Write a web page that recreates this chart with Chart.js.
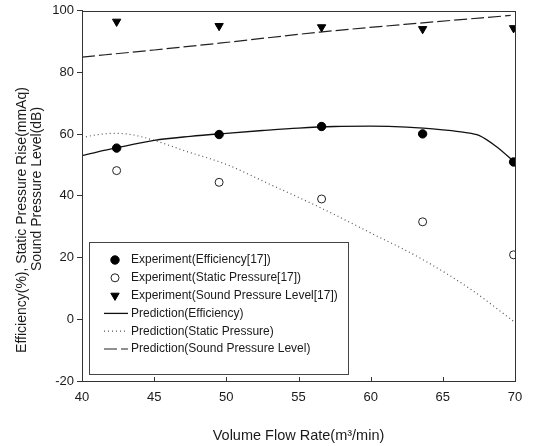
<!DOCTYPE html>
<html>
<head>
<meta charset="utf-8">
<script src="https://cdn.jsdelivr.net/npm/chart.js@4/dist/chart.umd.min.js"></script>
<style>
  html, body { margin: 0; padding: 0; background: #fff; }
  #wrap { width: 533px; height: 446px; }
</style>
</head>
<body>
<div id="wrap"><canvas id="c" width="533" height="446"></canvas></div>
<script>
// ---- data ----
const xExp    = [42.4, 49.5, 56.6, 63.6, 69.9];
const effExp  = [55.5, 59.9, 62.5, 60.1, 51.0];
const spExp   = [48.2, 44.4, 39.0, 31.6, 20.9];
const splExp  = [96.5, 95.1, 94.7, 94.1, 94.4];

const effPredX = [40, 42.5, 45, 47.5, 50, 52.5, 55, 57.5, 60, 62.5, 65, 66.5, 67.5, 68.7, 70];
const effPredY = [53.1, 55.7, 58.0, 59.3, 60.3, 61.2, 62.0, 62.5, 62.6, 62.3, 61.4, 60.6, 59.6, 56.0, 50.8];

const spPredX = [40, 41, 42.3, 43.5, 45, 47, 50, 53, 56.6, 60, 63.6, 67, 70];
const spPredY = [58.9, 59.8, 60.3, 59.8, 58.0, 54.8, 50.2, 43.8, 36.0, 28.0, 19.4, 9.5, -1.0];

const splPredX = [40, 45, 49.5, 56.5, 63.6, 69.7];
const splPredY = [85.0, 87.3, 89.5, 93.1, 96.1, 98.5];

const xTicks = [40, 45, 50, 55, 60, 65, 70];
const yTicks = [-20, 0, 20, 40, 60, 80, 100];

const labels = [
  'Experiment(Efficiency[17])',
  'Experiment(Static Pressure[17])',
  'Experiment(Sound Pressure Level[17])',
  'Prediction(Efficiency)',
  'Prediction(Static Pressure)',
  'Prediction(Sound Pressure Level)'
];
const xTitle = 'Volume Flow Rate(m\u00B3/min)';
const yTitle = ['Efficiency(%), Static Pressure Rise(mmAq)', 'Sound Pressure Level(dB)'];

const pts = (xs, ys) => xs.map((x, i) => ({x: x, y: ys[i]}));
const FONT = '"Liberation Sans", Arial, sans-serif';
const INK = '#1a1a1a';

const frameAndLegend = {
  id: 'frameAndLegend',
  afterDatasetsDraw(chart) {
    const ctx = chart.ctx;
    const a = chart.chartArea;
    ctx.save();
    // frame
    ctx.strokeStyle = '#333';
    ctx.lineWidth = 1;
    ctx.strokeRect(Math.round(a.left) + 0.5, Math.round(a.top) + 0.5,
                   Math.round(a.right - a.left), Math.round(a.bottom - a.top));
    // inward x tick marks
    const xs = chart.scales.x;
    ctx.beginPath();
    xs.ticks.forEach(t => {
      const px = Math.round(xs.getPixelForValue(t.value)) + 0.5;
      ctx.moveTo(px, a.bottom);
      ctx.lineTo(px, a.bottom - 4);
    });
    ctx.stroke();

    // y axis title (two lines, rotated)
    ctx.save();
    ctx.fillStyle = INK;
    ctx.font = '14px ' + FONT;
    ctx.textAlign = 'center';
    ctx.textBaseline = 'middle';
    const titlePos = [[22, 220], [37, 189]];
    yTitle.forEach((t, i) => {
      ctx.save();
      ctx.translate(titlePos[i][0], titlePos[i][1]);
      ctx.rotate(-Math.PI / 2);
      ctx.fillText(t, 0, 0);
      ctx.restore();
    });
    ctx.restore();

    // legend box
    const bx0 = 89, by0 = 242, bx1 = 348, by1 = 374;
    ctx.fillStyle = '#fff';
    ctx.fillRect(bx0, by0, bx1 - bx0, by1 - by0);
    ctx.strokeStyle = '#444';
    ctx.strokeRect(bx0 + 0.5, by0 + 0.5, bx1 - bx0, by1 - by0);

    ctx.font = '12px ' + FONT;
    ctx.textBaseline = 'middle';
    ctx.textAlign = 'left';
    chart.data.datasets.forEach((ds, i) => {
      const y = 260 + i * 17.8;
      if (ds.showLine) {
        ctx.save();
        ctx.strokeStyle = ds.borderColor;
        ctx.lineWidth = ds.borderWidth;
        ctx.setLineDash(ds.borderDash || []);
        ctx.beginPath();
        ctx.moveTo(104, y);
        ctx.lineTo(128, y);
        ctx.stroke();
        ctx.restore();
      } else {
        ctx.save();
        ctx.fillStyle = ds.pointBackgroundColor;
        ctx.strokeStyle = ds.pointBorderColor;
        ctx.lineWidth = ds.pointBorderWidth;
        Chart.helpers.drawPoint(ctx, {
          pointStyle: ds.pointStyle,
          radius: ds.pointRadius,
          rotation: ds.pointRotation || 0,
          borderWidth: ds.pointBorderWidth
        }, 115, y);
        ctx.restore();
      }
      ctx.fillStyle = INK;
      ctx.fillText(ds.label, 131, y);
    });
    ctx.restore();
  }
};

new Chart(document.getElementById('c'), {
  type: 'scatter',
  data: {
    datasets: [
      { label: labels[0], data: pts(xExp, effExp), pointStyle: 'circle', pointRadius: 4.2,
        pointBackgroundColor: '#000', pointBorderColor: '#000', pointBorderWidth: 1, showLine: false },
      { label: labels[1], data: pts(xExp, spExp), pointStyle: 'circle', pointRadius: 4,
        pointBackgroundColor: '#fff', pointBorderColor: '#222', pointBorderWidth: 1, showLine: false },
      { label: labels[2], data: pts(xExp, splExp), pointStyle: 'triangle', pointRadius: 4.8, pointRotation: 180,
        pointBackgroundColor: '#000', pointBorderColor: '#000', pointBorderWidth: 1, showLine: false },
      { label: labels[3], data: pts(effPredX, effPredY), showLine: true, pointRadius: 0,
        borderColor: '#111', borderWidth: 1.3, cubicInterpolationMode: 'monotone' },
      { label: labels[4], data: pts(spPredX, spPredY), showLine: true, pointRadius: 0,
        borderColor: '#555', borderWidth: 1.2, borderDash: [1, 3], cubicInterpolationMode: 'monotone' },
      { label: labels[5], data: pts(splPredX, splPredY), showLine: true, pointRadius: 0,
        borderColor: '#222', borderWidth: 1.2, borderDash: [13, 4], cubicInterpolationMode: 'monotone' }
    ]
  },
  options: {
    responsive: false,
    animation: false,
    events: [],
    layout: { padding: { top: 10, right: 18, left: 0, bottom: 0 } },
    plugins: { legend: { display: false }, tooltip: { enabled: false } },
    scales: {
      x: {
        type: 'linear', min: 40, max: 70,
        afterBuildTicks: s => { s.ticks = xTicks.map(v => ({value: v})); },
        afterFit: s => { s.height = 65; },
        grid: { display: true, drawOnChartArea: false, drawTicks: false, color: '#333' },
        border: { display: true, color: '#333' },
        ticks: { font: { size: 13, family: FONT }, color: INK, padding: 9 },
        title: { display: true, text: xTitle, font: { size: 14.5, family: FONT }, color: INK,
                 padding: { top: 0, bottom: 1 } }
      },
      y: {
        type: 'linear', min: -20, max: 100,
        afterBuildTicks: s => { s.ticks = yTicks.map(v => ({value: v})); },
        afterFit: s => { s.width = 82; },
        grid: { display: true, drawOnChartArea: false, drawTicks: true, tickLength: 5, color: '#333' },
        border: { display: true, color: '#333' },
        ticks: { font: { size: 13, family: FONT }, color: INK, padding: 3 },
        title: { display: false }
      }
    }
  },
  plugins: [frameAndLegend]
});
</script>
</body>
</html>
